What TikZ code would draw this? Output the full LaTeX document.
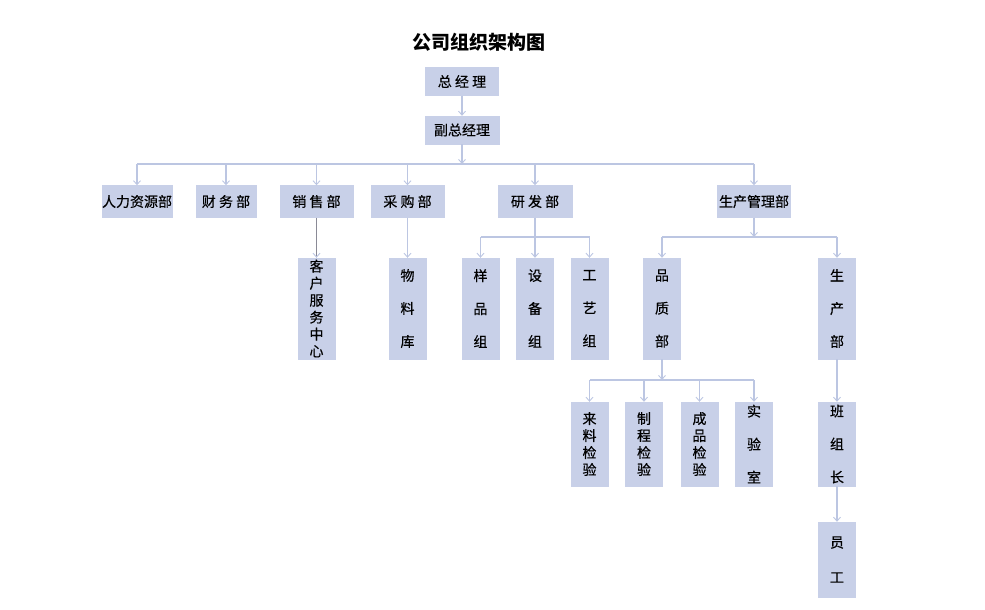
\documentclass[tikz,border=0pt]{standalone}
\usepackage{fontspec}
\newfontfamily\cjk{Noto Sans CJK SC}[FakeBold=0.4]
\newfontfamily\cjkt{Noto Sans CJK SC}
\usetikzlibrary{arrows.meta}
\definecolor{boxc}{HTML}{C8D0E8}
\definecolor{linec}{HTML}{BCC6E2}
\definecolor{darkl}{HTML}{8A8A96}
\tikzset{
  box/.style={fill=boxc, draw=boxc, inner sep=0pt, text=black, font=\cjk\fontsize{14}{16}\selectfont, align=center},
  hbox/.style={box, minimum height=32pt},
  vtight/.style={box, minimum width=37pt, font=\cjk\fontsize{14}{17}\selectfont},
  vloose/.style={box, minimum width=37pt, font=\cjk\fontsize{14}{33}\selectfont},
  conn/.style={draw=linec, line width=1.2pt},
  arr/.style={conn, -{Straight Barb[length=4pt,width=7pt,line width=0.9pt]}},
}
\begin{document}
\begin{tikzpicture}[x=1pt,y=-1pt]
\useasboundingbox (0,0) rectangle (985,610);
\node[font=\cjkt\bfseries\fontsize{19}{21}\selectfont] (title) at (479,42) {公司组织架构图};
\node[box, minimum width=73pt, minimum height=28pt] (gm) at (462,81.5) {总\ 经\ 理};
\node[box, minimum width=74pt, minimum height=28pt] (vgm) at (462,130) {副总经理};

\node[hbox, minimum width=70pt] (hr) at (137,201.5) {人力资源部};
\node[hbox, minimum width=60pt] (fin) at (226,201.5) {财\ 务\ 部};
\node[hbox, minimum width=73pt] (sales) at (316.5,201.5) {销\ 售\ 部};
\node[hbox, minimum width=73pt] (purch) at (407.5,201.5) {采\ 购\ 部};
\node[hbox, minimum width=74pt] (rd) at (535,201.5) {研\ 发\ 部};
\node[hbox, minimum width=73pt] (prod) at (754,201.5) {生产管理部};

\node[vtight, minimum height=101pt] (cs) at (316.5,308.5) {客\\户\\服\\务\\中\\心};
\node[vloose, minimum height=101pt] (mat) at (407.5,308.5) {物\\料\\库};
\node[vloose, minimum height=101pt] (smp) at (480.5,308.5) {样\\品\\组};
\node[vloose, minimum height=101pt] (eq) at (535,308.5) {设\\备\\组};
\node[vloose, minimum height=101pt] (proc) at (589.5,308.5) {工\\艺\\组};
\node[vloose, minimum height=101pt] (qa) at (662,308.5) {品\\质\\部};
\node[vloose, minimum height=101pt] (pd) at (837,308.5) {生\\产\\部};

\node[vtight, minimum height=84pt] (inc) at (589.5,444) {来\\料\\检\\验};
\node[vtight, minimum height=84pt] (mfg) at (644,444) {制\\程\\检\\验};
\node[vtight, minimum height=84pt] (fq) at (699.5,444) {成\\品\\检\\验};
\node[vloose, minimum height=84pt] (lab) at (754,444) {实\\验\\室};
\node[vloose, minimum height=84pt] (team) at (837,444) {班\\组\\长};
\node[box, minimum width=37pt, minimum height=75pt, font=\cjk\fontsize{14}{35}\selectfont] (staff) at (837,559.5) {员\\工};

\coordinate (bus1) at (0,164);
\coordinate (bus2) at (0,237);
\coordinate (bus4) at (0,380);

\draw[arr] (gm) -- (vgm);
\draw[arr] (vgm) -- (vgm |- bus1);
\draw[conn] (hr |- bus1) -- (prod |- bus1);
\foreach \n in {hr,fin,sales,purch,rd,prod} \draw[arr] (\n |- bus1) -- (\n);

\draw[draw=darkl, line width=1.2pt, -{Straight Barb[length=4pt,width=7pt,line width=0.9pt,color=linec]}] (sales) -- (cs);
\draw[arr] (purch) -- (mat);

\draw[arr] (rd) -- (eq);
\draw[conn] (smp |- bus2) -- (proc |- bus2);
\draw[arr] (smp |- bus2) -- (smp);
\draw[arr] (proc |- bus2) -- (proc);

\draw[arr] (prod) -- (prod |- bus2);
\draw[conn] (qa |- bus2) -- (pd |- bus2);
\draw[arr] (qa |- bus2) -- (qa);
\draw[arr] (pd |- bus2) -- (pd);

\draw[arr] (qa) -- (qa |- bus4);
\draw[conn] (inc |- bus4) -- (lab |- bus4);
\foreach \n in {inc,mfg,fq,lab} \draw[arr] (\n |- bus4) -- (\n);

\draw[arr] (pd) -- (team);
\draw[arr] (team) -- (staff);
\end{tikzpicture}
\end{document}
